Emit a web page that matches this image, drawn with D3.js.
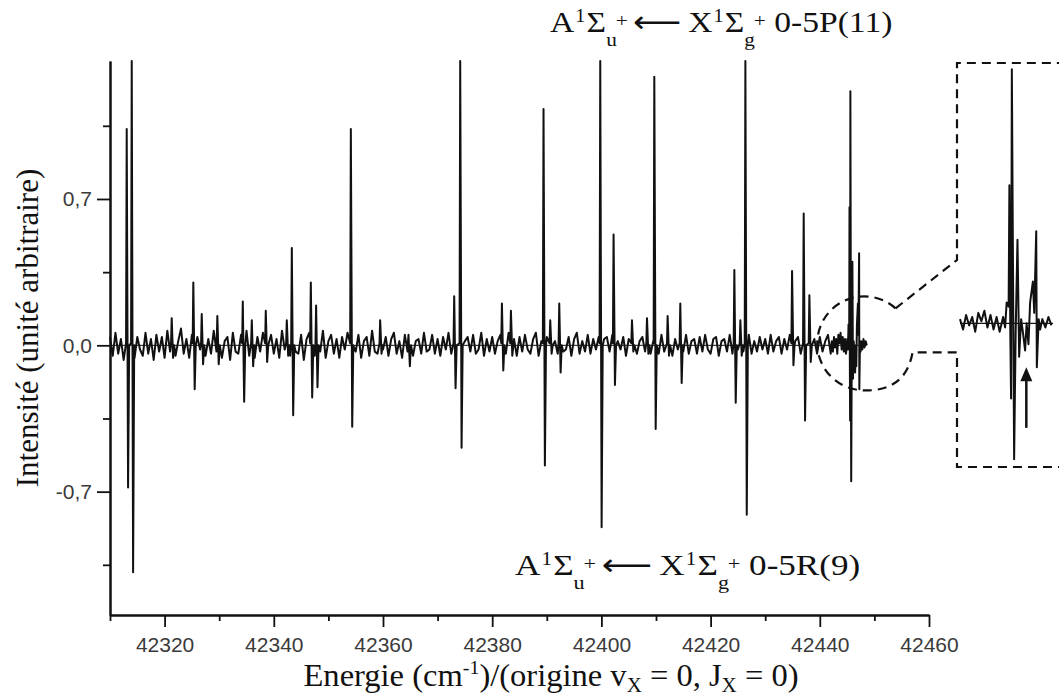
<!DOCTYPE html>
<html><head><meta charset="utf-8">
<script src="https://cdn.jsdelivr.net/npm/d3@7"></script>
<style>
html,body{margin:0;padding:0;background:#fff;}
svg{display:block;}
</style></head><body>
<svg id="chart" width="1059" height="699"></svg>
<script>
// Baseline noise, sampled every 0.5 cm-1 from 42310 cm-1 (hundredths of intensity)
const noiseStart = 42310;
const noiseStep = 0.5;
const noise = [
  4,-5,6,-4,3,-7,5,-3,7,-6,4,-2,-5,6,-4,3,-7,5,-3,4,
  -6,7,-3,5,-5,2,8,-4,3,-6,5,-7,4,-2,6,-5,3,-4,7,-3,
  5,-6,2,4,-7,6,-3,-4,5,-2,7,-5,3,-6,4,-3,6,-7,2,5,
  -4,3,-6,7,-2,4,-5,6,-3,-4,5,-7,3,6,-2,-5,4,-3,7,-6,
  2,5,-4,3,-6,4,-2,6,-5,3,-3,5,-6,2,4,-5,7,-3,-4,6,
  -2,4,-5,3,6,-4,2,-6,5,-3,4,-5,2,3,-4,6,-3,-2,5,-4,
  3,-5,4,-2,6,-4,3,-3,5,-6,2,4,-3,5,-4,-2,6,-5,3,-3,
  4,-4,2,5,-3,-4,6,-2,3,-5,4,-3,5,-2,-4,3,6,-5,2,-3,
  4,-5,3,2,-4,5,-3,-2,4,-5,3,6,-4,2,-3,5,-4,3,-2,4,
  -5,3,4,-3,5,-4,2,-2,4,-5,3,5,-3,-4,2,4,-3,5,-4,2,
  3,-4,5,-3,2,4,-5,3,-2,4,-3,5,-4,2,3,-4,4,-3,5,-2,
  -4,3,4,-5,2,3,-3,5,-4,2,-2,4,-3,3,5,-4,2,-3,4,-2,
  3,-4,5,-3,2,4,-4,3,-2,5,-3,2,4,-4,3,-3,5,-2,3,-4,
  4,-3,2,5,-4,3,-2,4,-3,3,-4,5,-2,3,-3,4,-2,3
];

// Rovibrational lines: position (cm-1), positive lobe, negative lobe
const linePos = [42313.06, 42313.98, 42321.3, 42325.26, 42326.8, 42329.66, 42334.32, 42335.97,
  42338.53, 42342.38, 42343.30, 42346.78, 42347.75, 42354.11, 42359.48, 42364.67, 42373.04,
  42374.14, 42381.78, 42383.43, 42389.40, 42390.63, 42392.28, 42399.79, 42402.23, 42405.6,
  42408.35, 42409.69, 42412.13, 42414.45, 42424.35, 42425.45, 42426.37, 42434.92, 42437.05, 42438.09];
const lineUp = [1.035, 1.36, 0.13, 0.30, 0.15, 0.14, 0.21, 0.12, 0.165, 0.12, 0.465, 0.30, 0.19,
  1.035, 0.12, 0.05, 0.235, 1.36, 0.20, 0.165, 1.13, 0.12, 0.20, 1.36, 0.53, 0.12, 0.13, 1.285,
  0.14, 0.20, 0.36, 0.12, 1.36, 0.355, 0.63, 0.24];
const lineDown = [-0.68, -1.085, -0.06, -0.21, -0.09, -0.09, -0.27, -0.10, -0.08, -0.05, -0.335,
  -0.25, -0.20, -0.39, -0.04, -0.10, -0.205, -0.49, -0.12, -0.05, -0.575, -0.04, -0.13, -0.87,
  -0.19, -0.03, -0.04, -0.40, -0.05, -0.18, -0.275, -0.05, -0.81, -0.095, -0.36, -0.08];

// Finely sampled end of the scan (42442.2 - 42448.6 cm-1), also shown magnified
const detailX = [42442.2, 42442.4, 42442.6, 42442.8, 42443.0, 42443.2, 42443.4, 42443.6, 42443.8,
  42444.0, 42444.2, 42444.4, 42444.6, 42444.8, 42445.03, 42445.16, 42445.26, 42445.39, 42445.44,
  42445.50, 42445.55, 42445.60, 42445.75, 42445.85, 42445.97, 42446.08, 42446.21, 42446.34,
  42446.47, 42446.57, 42446.69, 42446.80, 42446.98, 42447.07, 42447.20, 42447.24, 42447.36,
  42447.46, 42447.6, 42447.8, 42448.0, 42448.2, 42448.4, 42448.6];
const detailY = [0.02, -0.03, 0.04, -0.01, 0.03, -0.04, 0.05, 0.01, 0.06, -0.02, 0.04, -0.03, 0.03,
  -0.04, 0.03, -0.02, 0.10, 0.08, 0.66, -0.05, -0.36, 1.215, -0.65, -0.05, 0.40, -0.16, 0.02,
  -0.05, -0.13, 0.0, -0.10, 0.10, 0.20, 0.05, 0.44, -0.21, 0.02, -0.03, 0.02, -0.02, 0.03,
  -0.01, 0.02, 0.0];

const xMajorTicks = [42320, 42340, 42360, 42380, 42400, 42420, 42440, 42460];
const xMinorTicks = [42310, 42330, 42350, 42370, 42390, 42410, 42430, 42450];
const yMajorTicks = [-0.7, 0, 0.7];
const yTickLabels = ["-0,7", "0,0", "0,7"];
const yMinorTicks = [-1.05, -0.35, 0.35, 1.05];
const xDomain = [42310, 42460];
const yDomain = [-1.29, 1.36];
const insetDomain = [42442.2, 42448.3];
const arrowAt = 42446.55;

const serif = "Liberation Serif";
const sans = "Liberation Sans";

const svg = d3.select("#chart");
svg.append("rect").attr("width", 1059).attr("height", 699).attr("fill", "#fff");

const x = d3.scaleLinear().domain(xDomain).range([110, 929]);
const y = d3.scaleLinear().domain(yDomain).range([615, 61]);

// Assemble the trace: noise grid, line profiles and the finely sampled end
const riseOff = 0.12, fallOff = 0.25, settleOff = 0.45;
const detailLo = detailX[0], detailHi = detailX[detailX.length - 1];
const pts = [];
noise.forEach((v, i) => {
  const cx = noiseStart + i * noiseStep;
  if (cx >= detailLo && cx <= detailHi) return;
  if (linePos.some(p => cx > p - 0.15 && cx < p + settleOff + 0.05)) return;
  pts.push([cx, v / 100]);
});
linePos.forEach((p, i) => {
  pts.push([p - riseOff, 0.01]);
  pts.push([p, lineUp[i]]);
  pts.push([p + fallOff, lineDown[i]]);
  pts.push([p + settleOff, 0]);
});
detailX.forEach((cx, i) => pts.push([cx, detailY[i]]));
pts.sort((a, b) => a[0] - b[0]);

// zero line
svg.append("line")
  .attr("x1", x(xDomain[0])).attr("x2", x(detailHi))
  .attr("y1", y(0)).attr("y2", y(0))
  .attr("stroke", "#111").attr("stroke-width", 1);

const line = d3.line().x(d => x(d[0])).y(d => y(d[1]));
svg.append("path").datum(pts).attr("d", line)
  .attr("fill", "none").attr("stroke", "#111")
  .attr("stroke-width", 2).attr("stroke-linejoin", "round");

// Axes
function styleAxis(g) {
  g.attr("font-family", null).attr("font-size", null);
  g.select(".domain").attr("stroke", "#111").attr("stroke-width", 2);
  g.selectAll(".tick line").attr("stroke", "#111").attr("stroke-width", 1.8);
  g.selectAll(".tick text").style("font-family", sans).style("font-size", "21px").attr("fill", "#3a3a3a");
}
const gx = svg.append("g").attr("transform", "translate(0,615)")
  .call(d3.axisBottom(x).tickValues(xMajorTicks).tickSize(12).tickSizeOuter(0).tickPadding(10).tickFormat(d3.format("d")));
styleAxis(gx);
const gxm = svg.append("g").attr("transform", "translate(0,615)")
  .call(d3.axisBottom(x).tickValues(xMinorTicks).tickSize(6).tickSizeOuter(0).tickFormat(""));
styleAxis(gxm);

const gy = svg.append("g").attr("transform", "translate(110,0)")
  .call(d3.axisLeft(y).tickValues(yMajorTicks).tickSize(13).tickSizeOuter(0).tickPadding(5)
    .tickFormat((d, i) => yTickLabels[i]));
styleAxis(gy);
const gym = svg.append("g").attr("transform", "translate(110,0)")
  .call(d3.axisLeft(y).tickValues(yMinorTicks).tickSize(7).tickSizeOuter(0).tickFormat(""));
styleAxis(gym);

// Axis titles
svg.append("text")
  .attr("transform", "translate(38,328) rotate(-90)")
  .attr("text-anchor", "middle").style("font-family", serif).style("font-size", "31px").attr("fill", "#111")
  .text("Intensité (unité arbitraire)");

const xt = svg.append("text")
  .attr("transform", "translate(551,686) scale(1.05,1)")
  .attr("text-anchor", "middle").style("font-family", serif).style("font-size", "31px").attr("fill", "#111");
xt.append("tspan").text("Energie (cm");
xt.append("tspan").style("font-size", "19px").attr("dy", -12).text("-1");
xt.append("tspan").attr("dy", 12).text(")/(origine v");
xt.append("tspan").style("font-size", "20px").attr("dy", 6).text("X");
xt.append("tspan").attr("dy", -6).text(" = 0, J");
xt.append("tspan").style("font-size", "20px").attr("dy", 6).text("X");
xt.append("tspan").attr("dy", -6).text(" = 0)");

// Transition labels
function transition(px, py, sx, branch) {
  const t = svg.append("text").attr("transform", `translate(${px},${py}) scale(${sx},1)`)
    .style("font-family", serif).style("font-size", "30px").attr("fill", "#111");
  t.append("tspan").text("A");
  t.append("tspan").style("font-size", "18px").attr("dy", -10).attr("dx", 1).text("1");
  t.append("tspan").attr("dy", 10).attr("dx", 1).text("Σ");
  t.append("tspan").style("font-size", "19px").attr("dy", 14).text("u");
  t.append("tspan").style("font-size", "19px").attr("dy", -19).attr("dx", -1).text("+");
  t.append("tspan").style("font-family", "DejaVu Sans").attr("dy", 5).attr("dx", 5).text("⟵");
  t.append("tspan").attr("dx", 6).text("X");
  t.append("tspan").style("font-size", "18px").attr("dy", -10).attr("dx", 1).text("1");
  t.append("tspan").attr("dy", 10).attr("dx", 1).text("Σ");
  t.append("tspan").style("font-size", "19px").attr("dy", 14).text("g");
  t.append("tspan").style("font-size", "19px").attr("dy", -19).attr("dx", -1).text("+");
  t.append("tspan").attr("dy", 5).text(" 0-5" + branch);
}
transition(550, 32, 1.12, "P(11)");
transition(515, 575, 1.17, "R(9)");

// Magnified view of the end of the scan
const xi = d3.scaleLinear().domain(insetDomain).range([960, 1053]);
const yi = d3.scaleLinear().domain(yDomain).range([615 - 22, 61 - 22]);
const insetPts = detailX.map((cx, i) => [cx, detailY[i]]).filter(d => d[0] <= insetDomain[1]);

svg.append("line")
  .attr("x1", xi(insetDomain[0])).attr("x2", xi(insetDomain[1]))
  .attr("y1", yi(0)).attr("y2", yi(0))
  .attr("stroke", "#111").attr("stroke-width", 1.2);
svg.append("path").datum(insetPts)
  .attr("d", d3.line().x(d => xi(d[0])).y(d => yi(d[1])))
  .attr("fill", "none").attr("stroke", "#111").attr("stroke-width", 2).attr("stroke-linejoin", "round");

// arrow pointing at the weak feature
const ax = xi(arrowAt);
svg.append("line").attr("x1", ax).attr("x2", ax)
  .attr("y1", yi(-0.5)).attr("y2", yi(-0.26))
  .attr("stroke", "#111").attr("stroke-width", 2.5);
const tipY = yi(-0.21);
svg.append("path")
  .attr("d", `M${ax},${tipY} L${ax - 6},${tipY + 14} L${ax + 6},${tipY + 14} Z`)
  .attr("fill", "#111");

// Dashed callout: circle around the scan end, connected to the frame of the magnified view
const cx0 = x(42448.2), cy0 = y(0) - 2, r0 = 47;
const ux = cx0 + 31, uy = cy0 - 35;
const bx = cx0 - 2, by = cy0 + r0;
const callout = `M${ux},${uy} A${r0},${r0} 0 1 0 ${bx},${by} Q${cx0 + 41},${by + 2} ${cx0 + 48},${cy0 + 9}` +
  ` L957,${cy0 + 9} L957,467 L1065,467` +
  ` M${ux},${uy} L957,260 L957,63 L1065,63`;
svg.append("path").attr("d", callout)
  .attr("fill", "none").attr("stroke", "#111").attr("stroke-width", 2.2)
  .attr("stroke-dasharray", "9,6");
</script>
</body></html>
